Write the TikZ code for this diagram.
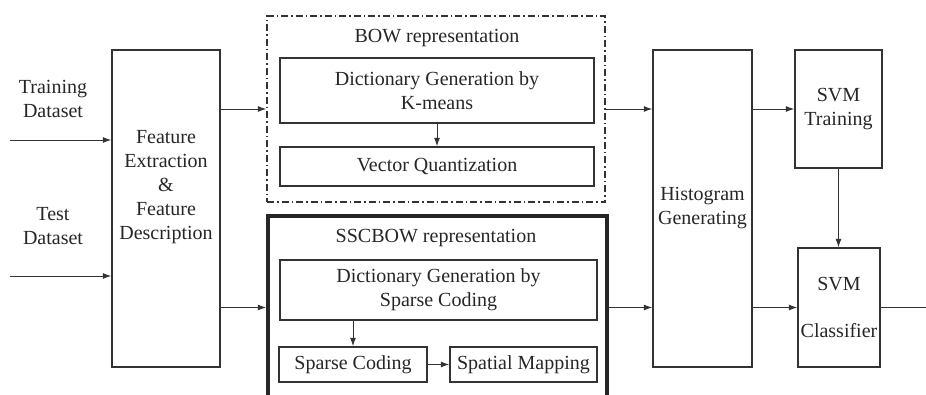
\documentclass[tikz,border=0pt]{standalone}
\usepackage{fontspec}
\setmainfont{Liberation Serif}
\usetikzlibrary{arrows.meta}
\begin{document}
\begin{tikzpicture}[x=1pt,y=-1pt,
  txt/.style={font=\fontsize{20}{24}\selectfont, text=black!85, align=center, inner sep=0pt},
  box/.style={draw=black!80, line width=1.4pt, inner sep=0pt, font=\fontsize{20}{24}\selectfont, text=black!85, align=center},
  arr/.style={draw=black!80, line width=1pt, -{Latex[length=8.5pt,width=6pt]}},
  ln/.style={draw=black!80, line width=1pt}]
\useasboundingbox (0,0) rectangle (926,394);
\clip (0,0) rectangle (926,394);
% left inputs
\node[txt] (trtxt) at (53,99) {Training\\Dataset};
\node[txt] (tetxt) at (53,226.5) {Test\\Dataset};
\node[box, minimum width=108pt, minimum height=317pt] (feat) at (166,208.5) {};
\node[txt] (feattxt) at (166,187) {Feature\\Extraction\\\&\\Feature\\Description};
\coordinate (tin) at (10,140);
\coordinate (ten) at (10,276);
\draw[arr] (tin) -- (tin -| feat.west);
\draw[arr] (ten) -- (ten -| feat.west);
% BOW
\node[draw=black!80, line width=1.3pt, dash pattern=on 7pt off 3pt on 1.5pt off 3pt, minimum width=338pt, minimum height=186pt, inner sep=0pt] (bow) at (436,109) {};
\node[txt] (bowt) at (437,38) {BOW representation};
\node[box, minimum width=314pt, minimum height=65pt] (dict1) at (437,90.5) {Dictionary Generation by\\K-means};
\node[box, minimum width=314pt, minimum height=39pt] (vq) at (437,166.5) {Vector Quantization};
\draw[arr] (dict1.south) -- (vq.north);
% SSCBOW
\node[draw=black!85, line width=3.5pt, minimum width=339pt, minimum height=200pt, inner sep=0pt] (ssc) at (437.5,316) {};
\node[txt] (ssct) at (436,238) {SSCBOW representation};
\node[box, minimum width=317pt, minimum height=60pt] (dict2) at (438.5,290) {Dictionary Generation by\\Sparse Coding};
\node[box, minimum width=148pt, minimum height=35pt] (sc) at (353,364.5) {Sparse Coding};
\node[box, minimum width=147pt, minimum height=35pt] (sm) at (523.5,364.5) {Spatial Mapping};
\draw[arr] (dict2.south -| sc.north) -- (sc.north);
\draw[arr] (sc.east) -- (sm.west);
% right side
\node[box, minimum width=99pt, minimum height=317pt] (hist) at (702.5,208.5) {Histogram\\Generating};
\node[box, minimum width=87pt, minimum height=118pt] (svmt) at (838.5,109) {SVM\\Training};
\node[box, minimum width=82pt, minimum height=119pt] (svmc) at (839,307.5) {SVM\\[23pt]Classifier};
\coordinate (out) at (926,307.5);
% connectors
\draw[arr] (feat.east |- bow.west) -- (bow.west);
\draw[arr] (feat.east |- svmc.west) -- (ssc.west |- svmc.west);
\draw[arr] (bow.east) -- (bow.east -| hist.west);
\draw[arr] (ssc.east |- svmc.west) -- (hist.west |- svmc.west);
\draw[arr] (hist.east |- svmt.west) -- (svmt.west);
\draw[arr] (hist.east |- svmc.west) -- (svmc.west);
\draw[arr] (svmt.south) -- (svmt.south |- svmc.north);
\draw[ln] (svmc.east) -- (out);
\end{tikzpicture}
\end{document}
